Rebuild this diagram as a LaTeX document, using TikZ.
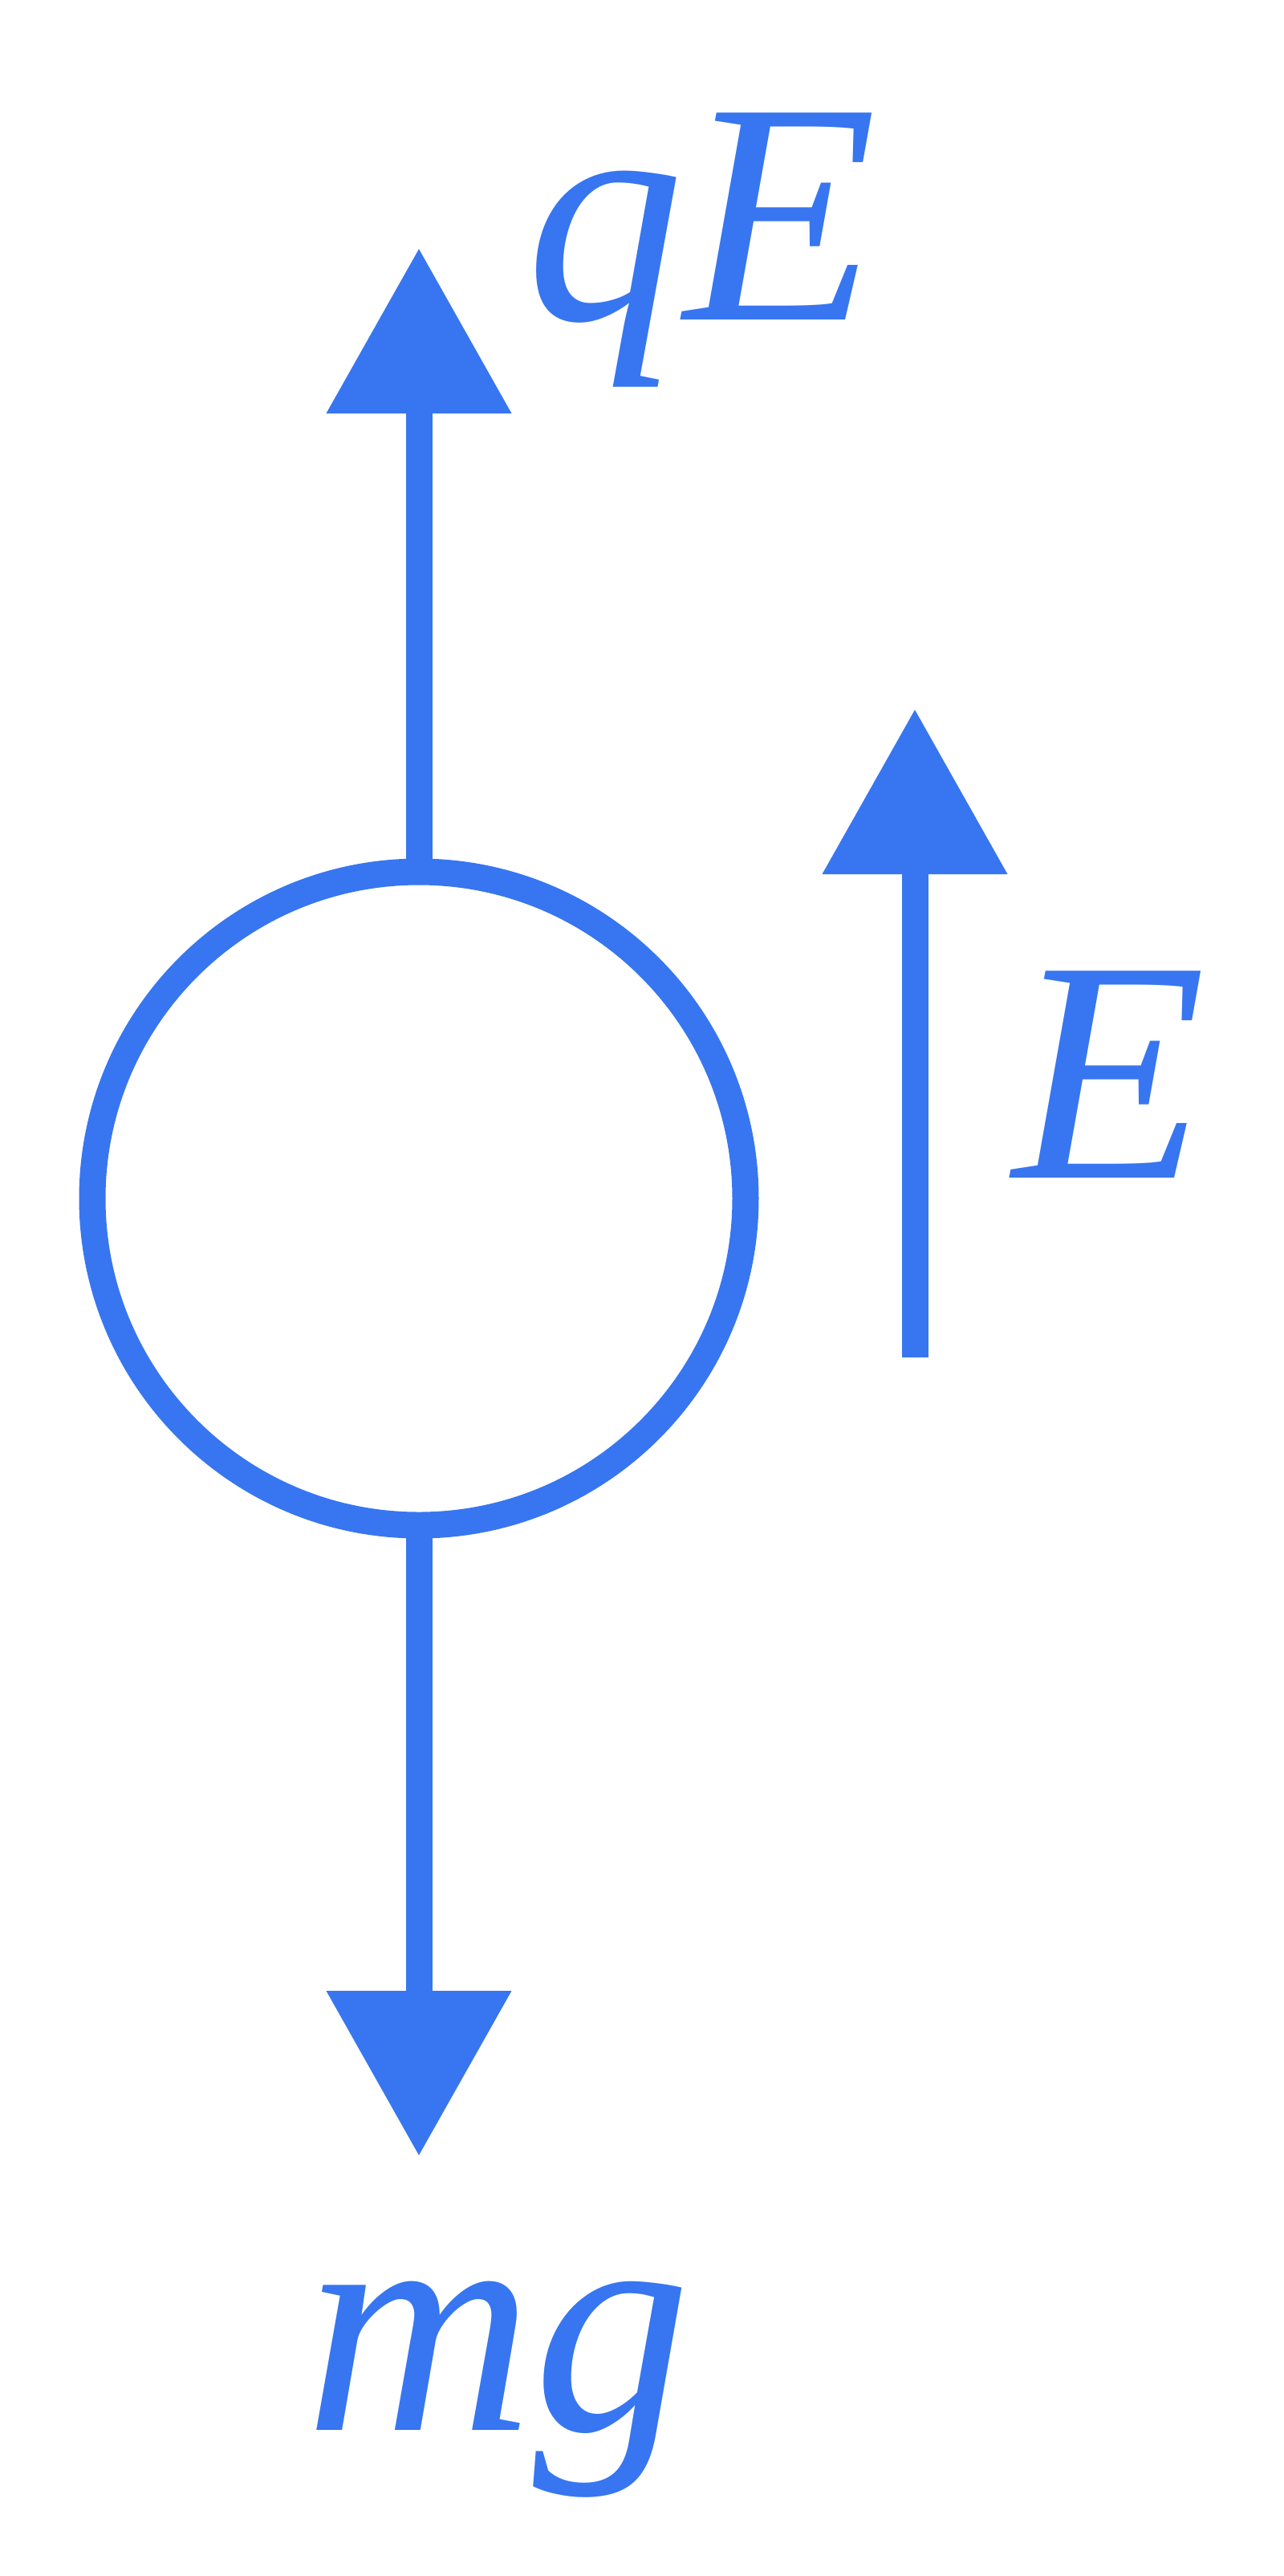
\documentclass[tikz,border=0pt]{standalone}
\usepackage{fontspec}
\setmainfont{Liberation Serif}
\usetikzlibrary{arrows.meta, positioning}
\definecolor{forceblue}{RGB}{55,118,240}

\begin{document}
\begin{tikzpicture}[
        lbl/.style={text=forceblue, inner sep=0pt, font=\fontsize{112}{112}\selectfont\itshape},
        arrow/.style={-{Triangle[length=2.06cm, width=2.22cm]}, line width=0.33cm, draw=forceblue}
    ]
    \useasboundingbox (0,0) rectangle (16,-32.09);

    % Nodes
    \node (ball) [circle, draw=forceblue, line width=0.33cm, minimum size=8.14cm, inner sep=0pt, outer sep=0pt] at (5.22,-14.93) {};
    \coordinate (uptip) at (5.22,-3.09);
    \coordinate (downtip) at (5.22,-26.86);
    \coordinate (fieldtail) at (11.40,-16.91);
    \coordinate (fieldtip) at (11.40,-8.83);
    \node (qE) [lbl, anchor=base west] at (6.55,-3.98) {qE};
    \node (field) [lbl, anchor=base west] at (12.62,-14.67) {E};
    \node (mg) [lbl, anchor=base west] at (3.80,-30.27) {mg};

    % Connections
    \draw[arrow] (ball.north) -- (uptip);
    \draw[arrow] (ball.south) -- (downtip);
    \draw[arrow] (fieldtail) -- (fieldtip);

\end{tikzpicture}
\end{document}
